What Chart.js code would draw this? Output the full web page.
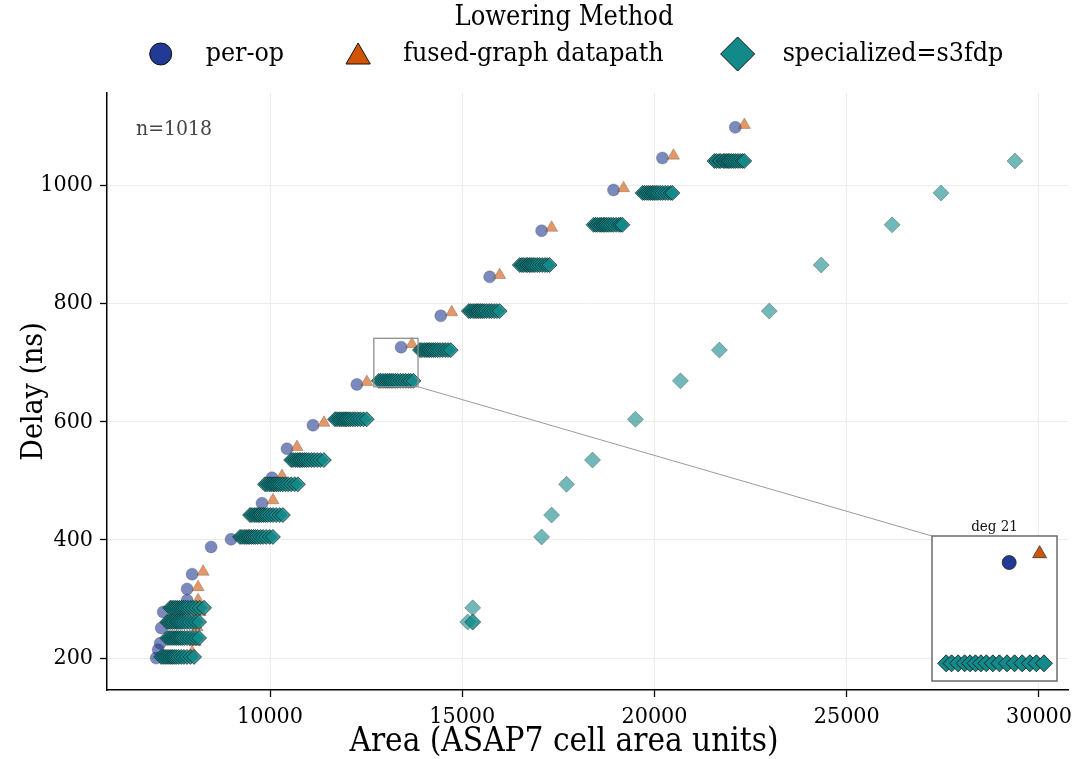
<!DOCTYPE html>
<html>
<head>
<meta charset="utf-8">
<script src="https://cdn.jsdelivr.net/npm/chart.js@4.4.1/dist/chart.umd.min.js"></script>
<style>
    html, body { margin: 0; padding: 0; background: #fff; }
    #wrap { position: relative; width: 1079px; height: 759px; }
    #main { position: absolute; left: 0; top: 0; }
    #inset { position: absolute; left: 932px; top: 536px; }
</style>
</head>
<body>
<div id="wrap">
    <canvas id="main" width="1079" height="759"></canvas>
    <canvas id="inset" width="125" height="145"></canvas>
</div>
<script>
// ===================================================================
// DATA
// ===================================================================
const perOpArea  = [22102, 20206, 18934, 17064, 15713, 14441, 13410, 12259, 11117, 10441, 10052, 9792, 8987, 8468, 7974, 7844, 7844, 7221, 7169, 7143, 7091, 7039];
const perOpDelay = [1098, 1046, 992, 923, 845, 779, 726, 663, 594, 554, 505, 462, 401, 388, 342, 317, 298, 278, 251, 225, 214, 200];

const fusedArea  = [22338, 20494, 19195, 17324, 15973, 14727, 13690, 12519, 11402, 10701, 10311, 10078, 9247, 8260, 8130, 8130, 8182, 8104, 8052, 7974];
const fusedDelay = [1102, 1050, 995, 928, 848, 785, 731, 667, 598, 557, 508, 467, 404, 346, 320, 298, 278, 252, 227, 210];

// specialized=s3fdp: one cluster of designs per delay level
const clusterDelay = [1041, 987, 933, 865, 787, 721, 669, 604, 535, 494, 442, 405, 285, 261, 234, 202];
const clusterArea = [
    [21560, 21610, 21680, 21720, 21790, 21830, 21880, 21920, 21960, 22010, 22060, 22110, 22170, 22230, 22290, 22336],
    [19690, 19740, 19800, 19850, 19900, 19950, 19990, 20040, 20090, 20150, 20210, 20280, 20350, 20420, 20466],
    [18415, 18470, 18520, 18580, 18620, 18670, 18710, 18760, 18810, 18870, 18930, 19000, 19070, 19120, 19165],
    [16495, 16550, 16600, 16660, 16700, 16750, 16790, 16840, 16890, 16950, 17010, 17080, 17150, 17210, 17270],
    [15170, 15220, 15280, 15330, 15380, 15420, 15470, 15520, 15570, 15630, 15700, 15760, 15830, 15900, 15970],
    [13900, 13950, 14010, 14060, 14110, 14150, 14200, 14250, 14300, 14360, 14420, 14490, 14560, 14630, 14700],
    [12830, 12880, 12940, 13000, 13050, 13100, 13150, 13200, 13260, 13320, 13390, 13460, 13530, 13600, 13660, 13730],
    [11690, 11740, 11800, 11850, 11900, 11950, 11990, 12040, 12090, 12150, 12210, 12280, 12350, 12430, 12515],
    [10550, 10600, 10660, 10710, 10760, 10800, 10850, 10900, 10950, 11010, 11080, 11150, 11230, 11310, 11400],
    [9870, 9920, 9980, 10030, 10080, 10120, 10170, 10220, 10270, 10330, 10400, 10470, 10550, 10640, 10725],
    [9480, 9530, 9590, 9640, 9690, 9730, 9780, 9830, 9880, 9940, 10010, 10080, 10160, 10250, 10335],
    [9220, 9270, 9330, 9380, 9430, 9470, 9520, 9570, 9620, 9680, 9750, 9820, 9900, 9990, 10075],
    [7405, 7450, 7500, 7550, 7600, 7650, 7700, 7750, 7800, 7860, 7930, 8000, 8080, 8170, 8285],
    [7325, 7370, 7420, 7470, 7520, 7570, 7610, 7660, 7710, 7770, 7840, 7910, 7990, 8070, 8155],
    [7325, 7375, 7425, 7475, 7525, 7570, 7615, 7665, 7715, 7775, 7845, 7915, 7995, 8075, 8155],
    [7170, 7220, 7270, 7320, 7370, 7420, 7460, 7510, 7560, 7620, 7690, 7760, 7840, 7930, 8025],
];
// the far-right branch of specialized designs
const outlierArea  = [29374, 27452, 26180, 24336, 22985, 21687, 20674, 19505, 18388, 17713, 17324, 17064, 15272, 15142, 15272, 15272];
const outlierDelay = [1041, 987, 933, 865, 787, 721, 669, 604, 535, 494, 442, 405, 285, 261, 261, 261];

const xTicks = [10000, 15000, 20000, 25000, 30000];
const yTicks = [200, 400, 600, 800, 1000];

// zoomed region shown in the inset (deg 21)
const insetArea  = [12700, 13850];
const insetDelay = [659, 741];

// ===================================================================
// STYLE
// ===================================================================
const FONT = '"DejaVu Serif Condensed", "DejaVu Serif", serif';
const BLUE = '#213a93', ORANGE = '#d35400', TEAL = '#138a8a';
const INSET = { left: 932, top: 536, w: 125, h: 145 };

const toPoints = (xs, ys) => xs.map((x, i) => ({ x, y: ys[i] }));
const perOpPoints = toPoints(perOpArea, perOpDelay);
const fusedPoints = toPoints(fusedArea, fusedDelay);
const clusterPoints = clusterArea.flatMap((xs, i) => xs.map(x => ({ x, y: clusterDelay[i] })));
const outlierPoints = toPoints(outlierArea, outlierDelay);

const inInset = p => p.x >= insetArea[0] && p.x <= insetArea[1] && p.y >= insetDelay[0] && p.y <= insetDelay[1];

// ===================================================================
// OVERLAY: n label, zoom box, connector, inset frame, x title, legend
// ===================================================================
const overlayPlugin = {
    id: 'overlay',
    afterDatasetsDraw(chart) {
        const { ctx, chartArea, scales: { x, y } } = chart;
        ctx.save();
        ctx.fillStyle = '#444';
        ctx.font = `21px ${FONT}`;
        ctx.textAlign = 'left';
        ctx.textBaseline = 'middle';
        ctx.fillText('n=1018', chartArea.left + 29, chartArea.top + 37);

        const rx0 = x.getPixelForValue(insetArea[0]), rx1 = x.getPixelForValue(insetArea[1]);
        const ry0 = y.getPixelForValue(insetDelay[1]), ry1 = y.getPixelForValue(insetDelay[0]);
        ctx.strokeStyle = '#8f8f8f';
        ctx.lineWidth = 1.3;
        ctx.strokeRect(rx0, ry0, rx1 - rx0, ry1 - ry0);

        ctx.strokeStyle = '#9a9a9a';
        ctx.lineWidth = 1;
        ctx.beginPath();
        ctx.moveTo(rx1, ry1);
        ctx.lineTo(INSET.left, INSET.top);
        ctx.stroke();

        ctx.fillStyle = '#fff';
        ctx.fillRect(INSET.left, INSET.top, INSET.w, INSET.h);
        ctx.strokeStyle = '#6b6b6b';
        ctx.lineWidth = 1.5;
        ctx.strokeRect(INSET.left, INSET.top, INSET.w, INSET.h);

        ctx.fillStyle = '#111';
        ctx.font = `15px ${FONT}`;
        ctx.textAlign = 'center';
        ctx.textBaseline = 'bottom';
        ctx.fillText('deg 21', INSET.left + INSET.w / 2, INSET.top - 1);
        ctx.restore();
    },
    afterDraw(chart) {
        const ctx = chart.ctx;
        ctx.save();
        // x axis title (sits a little left of the axes centre in the reference)
        ctx.fillStyle = '#000';
        ctx.font = `33px ${FONT}`;
        ctx.textAlign = 'center';
        ctx.textBaseline = 'middle';
        ctx.fillText('Area (ASAP7 cell area units)', 564, 742);

        // legend
        const items = [
            { label: 'per-op', style: 'circle', r: 11, fill: BLUE, dy: 0 },
            { label: 'fused-graph datapath', style: 'triangle', r: 14, fill: ORANGE, dy: 3 },
            { label: 'specialized=s3fdp', style: 'rectRot', r: 17, fill: TEAL, dy: 0 },
        ];
        ctx.font = `27px ${FONT}`;
        ctx.fillText('Lowering Method', 564, 18);

        ctx.font = `26.5px ${FONT}`;
        ctx.textAlign = 'left';
        const widths = items.map(it => ctx.measureText(it.label).width);
        const total = 11 + widths.reduce((a, w) => a + 45 + w, 0) + 74 * (items.length - 1);
        let cx = 578.5 - total / 2 + 9;
        const cy = 54;
        items.forEach((it, i) => {
            ctx.fillStyle = it.fill;
            ctx.strokeStyle = '#111';
            Chart.helpers.drawPoint(ctx, { pointStyle: it.style, radius: it.r, rotation: 0, borderWidth: 1.2 }, cx, cy + it.dy);
            ctx.fillStyle = '#000';
            ctx.fillText(it.label, cx + 45, cy);
            cx += 45 + widths[i] + 74;
        });
        ctx.restore();
    }
};

// ===================================================================
// MAIN CHART
// ===================================================================
new Chart(document.getElementById('main'), {
    type: 'scatter',
    data: {
        datasets: [
            {
                label: 'specialized=s3fdp', data: clusterPoints, order: 1,
                pointStyle: 'rectRot', pointRadius: 7.5,
                backgroundColor: 'rgba(19,138,138,0.85)', borderColor: 'rgba(0,0,0,0.7)', borderWidth: 0.8,
            },
            {
                label: 'specialized=s3fdp (far branch)', data: outlierPoints, order: 1,
                pointStyle: 'rectRot', pointRadius: 8,
                backgroundColor: 'rgba(19,138,138,0.6)', borderColor: 'rgba(60,60,60,0.55)', borderWidth: 0.7,
            },
            {
                label: 'fused-graph datapath', data: fusedPoints, order: 2,
                pointStyle: 'triangle', pointRadius: 7,
                backgroundColor: 'rgba(211,84,0,0.6)', borderColor: 'rgba(60,60,60,0.5)', borderWidth: 0.6,
            },
            {
                label: 'per-op', data: perOpPoints, order: 3,
                pointStyle: 'circle', pointRadius: 6,
                backgroundColor: 'rgba(33,58,147,0.6)', borderColor: 'rgba(60,60,60,0.5)', borderWidth: 0.6,
            },
        ]
    },
    options: {
        responsive: false,
        animation: false,
        events: [],
        layout: { padding: { top: 93, right: 11, left: 0, bottom: 0 }, autoPadding: false },
        plugins: { legend: { display: false }, tooltip: { enabled: false } },
        scales: {
            x: {
                type: 'linear', min: 5760, max: 30755,
                afterBuildTicks: s => { s.ticks = xTicks.map(v => ({ value: v })); },
                afterFit: s => { s.height = 69; },
                grid: { color: '#ececec', lineWidth: 1, tickLength: 7, tickColor: '#000', tickWidth: 1.3 },
                border: { color: '#000', width: 1.5 },
                ticks: { color: '#000', font: { family: FONT, size: 23 }, padding: 6, maxRotation: 0, callback: v => String(v) },
                title: { display: false }
            },
            y: {
                type: 'linear', min: 146, max: 1156,
                afterBuildTicks: s => { s.ticks = yTicks.map(v => ({ value: v })); },
                afterFit: s => { s.width = 107; },
                grid: { color: '#ececec', lineWidth: 1, tickLength: 7, tickColor: '#000', tickWidth: 1.3 },
                border: { color: '#000', width: 1.5 },
                ticks: { color: '#000', font: { family: FONT, size: 23 }, padding: 7, callback: v => String(v) },
                title: { display: true, text: 'Delay (ns)', color: '#000', font: { family: FONT, size: 30 }, padding: { top: 16, bottom: 0 } }
            }
        }
    },
    plugins: [overlayPlugin]
});

// ===================================================================
// INSET CHART (deg 21)
// ===================================================================
new Chart(document.getElementById('inset'), {
    type: 'scatter',
    data: {
        datasets: [
            {
                data: clusterPoints.filter(inInset), order: 1,
                pointStyle: 'rectRot', pointRadius: 8.5,
                backgroundColor: TEAL, borderColor: '#111', borderWidth: 0.8,
            },
            {
                data: fusedPoints.filter(inInset), order: 2,
                pointStyle: 'triangle', pointRadius: 8,
                backgroundColor: ORANGE, borderColor: '#333', borderWidth: 0.8,
            },
            {
                data: perOpPoints.filter(inInset), order: 3,
                pointStyle: 'circle', pointRadius: 7,
                backgroundColor: BLUE, borderColor: '#222', borderWidth: 0.8,
            },
        ]
    },
    options: {
        responsive: false,
        animation: false,
        events: [],
        layout: { padding: 0, autoPadding: false },
        plugins: { legend: { display: false }, tooltip: { enabled: false } },
        scales: {
            x: { type: 'linear', display: false, min: insetArea[0], max: insetArea[1] },
            y: { type: 'linear', display: false, min: insetDelay[0], max: insetDelay[1] }
        }
    }
});
</script>
</body>
</html>
